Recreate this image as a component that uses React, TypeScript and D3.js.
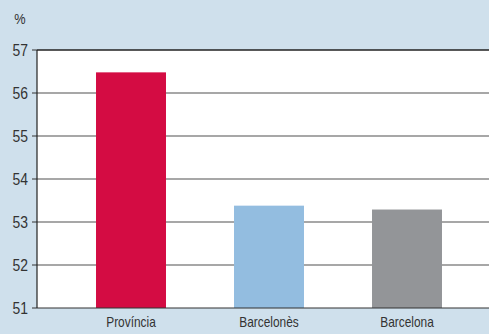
import React from "react";
import * as d3 from "d3";

const categories = ["Província", "Barcelonès", "Barcelona"];
const values = [56.48, 53.38, 53.29];
const colors = ["#d40c43", "#93bde0", "#939598"];
const yTicks = [51, 52, 53, 54, 55, 56, 57];
const unitLabel = "%";

export default function App() {
  const W = 489, H = 334;
  const plotLeft = 37, plotRight = 489, plotTop = 50, plotBottom = 308;
  const y = d3.scaleLinear().domain([51, 57]).range([plotBottom, plotTop]);
  const x = d3.scaleBand().domain(categories).range([62, 476]).paddingInner(0.493).paddingOuter(0.2465);
  const font = "'Liberation Sans', Arial, sans-serif";
  return (
    <svg width={W} height={H} style={{ position: "absolute", left: 0, top: 0, display: "block" }}>
      <rect x={0} y={0} width={W} height={H} fill="#cfe0ec" />
      <rect x={plotLeft} y={plotTop} width={plotRight - plotLeft} height={plotBottom - plotTop} fill="#ffffff" />
      {yTicks.map((t) => (
        <g key={t}>
          {t !== 57 && t !== 51 && (
            <line x1={plotLeft} x2={plotRight} y1={y(t)} y2={y(t)} stroke="#8a8a8a" strokeWidth={1.5} />
          )}
          <line x1={plotLeft - 5} x2={plotLeft} y1={y(t)} y2={y(t)} stroke="#333" strokeWidth={1} />
          <text
            x={0}
            y={0}
            transform={`translate(28,${y(t) + 6}) scale(0.82,1)`}
            textAnchor="end"
            fontFamily={font}
            fontSize={17}
            fill="#333"
          >
            {t}
          </text>
        </g>
      ))}
      {categories.map((c, i) => (
        <rect
          key={c}
          x={x(c)}
          y={y(values[i])}
          width={x.bandwidth()}
          height={plotBottom - y(values[i])}
          fill={colors[i]}
        />
      ))}
      <line x1={plotLeft} x2={plotRight} y1={plotTop} y2={plotTop} stroke="#222" strokeWidth={1.5} />
      <line x1={plotLeft} x2={plotRight} y1={plotBottom} y2={plotBottom} stroke="#333" strokeWidth={1.2} />
      <line x1={plotLeft} x2={plotLeft} y1={plotTop} y2={plotBottom} stroke="#222" strokeWidth={1.2} />
      {categories.map((c) => (
        <text
          key={c}
          x={0}
          y={0}
          transform={`translate(${(x(c) as number) + x.bandwidth() / 2},327) scale(0.85,1)`}
          textAnchor="middle"
          fontFamily={font}
          fontSize={14}
          fill="#333"
        >
          {c}
        </text>
      ))}
      <text x={0} y={0} transform="translate(20,24) scale(0.85,1)" textAnchor="middle" fontFamily={font} fontSize={15} fill="#333">
        {unitLabel}
      </text>
    </svg>
  );
}
